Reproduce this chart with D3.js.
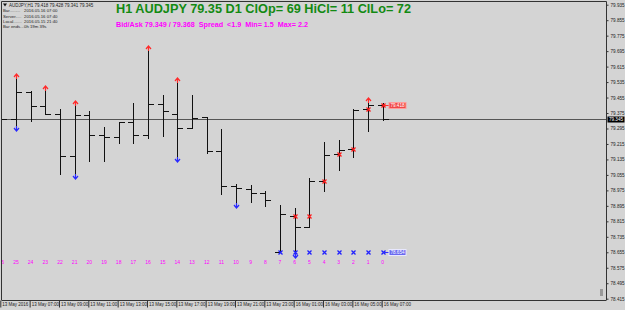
<meta charset="utf-8">
<script src="https://d3js.org/d3.v7.min.js"></script>
<style>
  body { margin: 0; background: #d4d4d4; }
  svg { display: block; font-family: "Liberation Sans", Arial, sans-serif; }
</style>
<div id="chart"></div>
<script>

// H1 bars, oldest first (13 May 05:00 .. 16 May 07:00)
var barTimes = ["13 May 05:00","13 May 06:00","13 May 07:00","13 May 08:00","13 May 09:00","13 May 10:00",
  "13 May 11:00","13 May 12:00","13 May 13:00","13 May 14:00","13 May 15:00","13 May 16:00","13 May 17:00",
  "13 May 18:00","13 May 19:00","13 May 20:00","13 May 21:00","13 May 22:00","13 May 23:00",
  "16 May 00:00","16 May 01:00","16 May 02:00","16 May 03:00","16 May 04:00","16 May 05:00","16 May 06:00","16 May 07:00"];
var opens  = [79.400, 79.343, 79.483, 79.412, 79.370, 79.154, 79.364, 79.262, 79.253, 79.329, 79.262, 79.422, 79.370, 79.297,
  79.356, 79.181, 79.000, 78.983, 78.961, 78.658, 78.844, 78.788, 79.026, 79.162, 79.188, 79.395, 79.418];
var highs  = [79.494, 79.568, 79.491, 79.503, 79.396, 79.427, 79.387, 79.305, 79.331, 79.429, 79.712, 79.469, 79.546, 79.469,
  79.356, 79.291, 79.009, 79.002, 78.971, 78.900, 78.883, 79.038, 79.224, 79.236, 79.395, 79.443, 79.428];
var lows   = [79.314, 79.298, 79.336, 79.370, 79.059, 79.050, 79.129, 79.129, 79.222, 79.222, 79.245, 79.257, 79.138, 79.297,
  79.167, 78.957, 78.902, 78.917, 78.892, 78.654, 78.640, 78.788, 78.974, 79.078, 79.147, 79.284, 79.341];
var closes = [79.343, 79.483, 79.412, 79.370, 79.154, 79.364, 79.262, 79.253, 79.329, 79.262, 79.422, 79.384, 79.297, 79.351,
  79.181, 79.000, 78.987, 78.964, 78.925, 78.852, 78.788, 79.021, 79.160, 79.184, 79.391, 79.417, 79.345];

// indicator marks, as bar shifts (0 = current bar)
var upArrowShifts   = [25, 23, 21, 16, 14, 1];
var downArrowShifts = [25, 21, 14, 10, 6];
var redCrossShifts  = [6, 5, 4, 3, 2, 1, 0];
var redCrossPrices  = [78.844, 78.844, 79.026, 79.162, 79.188, 79.395, 79.418];
var blueCrossShifts = [7, 6, 5, 4, 3, 2, 1, 0];
var blueCrossPrice  = 78.654;
var bidPrice = 79.345;

var priceTicks = [79.935, 79.855, 79.775, 79.695, 79.615, 79.535, 79.455, 79.375, 79.295, 79.215, 79.135,
  79.055, 78.975, 78.895, 78.815, 78.735, 78.655, 78.575, 78.495, 78.415];
var timeTicks = ["13 May 05:00","13 May 07:00","13 May 09:00","13 May 11:00","13 May 13:00","13 May 15:00","13 May 17:00",
  "13 May 19:00","13 May 21:00","13 May 23:00","16 May 01:00","16 May 03:00","16 May 05:00","16 May 07:00"];
var timeTickLabels = ["13 May 2016","13 May 07:00","13 May 09:00","13 May 11:00","13 May 13:00","13 May 15:00","13 May 17:00",
  "13 May 19:00","13 May 21:00","13 May 23:00","16 May 01:00","16 May 03:00","16 May 05:00","16 May 07:00"];

var infoLines = [["Bar.........", "2016.05.16 07:00"], ["Server.....", "2016.05.16 07:40"],
  ["Local.......", "2016.05.15 21:40"], ["Bar ends...", "0h 19m 39s"]];

var width = 625, height = 310;
var plot = {left: 2, top: 2, right: 606, bottom: 300};
var last = barTimes.length - 1;

var svg = d3.select("#chart").append("svg")
    .attr("width", width)
    .attr("height", height);

svg.append("rect").attr("width", width).attr("height", height).attr("fill", "#d4d4d4");

var x = d3.scalePoint().domain(barTimes).range([1.3, 382.7]);
var y = d3.scaleLinear().domain([78.415, 79.935]).range([298.7, 4.7]);
function px(v) { return Math.round(v) + 0.5; }
function bx(shift) { return px(x(barTimes[last - shift])); }

svg.append("clipPath").attr("id", "plotClip")
  .append("rect")
    .attr("x", plot.left).attr("y", plot.top)
    .attr("width", plot.right - plot.left).attr("height", plot.bottom - plot.top);

var g = svg.append("g").attr("clip-path", "url(#plotClip)");

// bid line
g.append("line")
    .attr("x1", plot.left).attr("x2", plot.right)
    .attr("y1", px(y(bidPrice))).attr("y2", px(y(bidPrice)))
    .attr("stroke", "#555").attr("stroke-width", 1);

// OHLC bars
var bars = g.append("g").selectAll("g")
  .data(barTimes)
  .enter().append("g")
    .attr("stroke", "#111").attr("stroke-width", 1);
bars.append("line")
    .attr("x1", function(d) { return px(x(d)); }).attr("x2", function(d) { return px(x(d)); })
    .attr("y1", function(d, i) { return Math.round(y(highs[i])); })
    .attr("y2", function(d, i) { return Math.round(y(lows[i])) + 1; });
bars.append("line")
    .attr("x1", function(d) { return px(x(d)) - 5.5; }).attr("x2", function(d) { return px(x(d)); })
    .attr("y1", function(d, i) { return px(y(opens[i])); })
    .attr("y2", function(d, i) { return px(y(opens[i])); });
bars.append("line")
    .attr("x1", function(d) { return px(x(d)); }).attr("x2", function(d) { return px(x(d)) + 5.5; })
    .attr("y1", function(d, i) { return px(y(closes[i])); })
    .attr("y2", function(d, i) { return px(y(closes[i])); });

// fractal arrows
g.append("g").selectAll("path")
  .data(upArrowShifts)
  .enter().append("path")
    .attr("transform", function(d) { return "translate(" + bx(d) + "," + (Math.round(y(highs[last - d])) - 2) + ")"; })
    .attr("d", "M-2.5,3L0,0L2.5,3M0,0V5")
    .attr("fill", "none").attr("stroke", "#ff2a2a").attr("stroke-width", 1.2);
g.append("g").selectAll("path")
  .data(downArrowShifts)
  .enter().append("path")
    .attr("transform", function(d) { return "translate(" + bx(d) + "," + (Math.round(y(lows[last - d])) + 3) + ")"; })
    .attr("d", "M-2.5,-3L0,0L2.5,-3M0,0V-5")
    .attr("fill", "none").attr("stroke", "#2a2aff").attr("stroke-width", 1.2);

// crosses
var crossPath = "M-2,-2L2,2M-2,2L2,-2";
g.append("g").selectAll("path")
  .data(blueCrossShifts)
  .enter().append("path")
    .attr("transform", function(d) { return "translate(" + bx(d) + "," + px(y(blueCrossPrice)) + ")"; })
    .attr("d", crossPath)
    .attr("stroke", "#2020ff").attr("stroke-width", 1.3);
g.append("g").selectAll("path")
  .data(redCrossShifts)
  .enter().append("path")
    .attr("transform", function(d, i) { return "translate(" + bx(d) + "," + px(y(redCrossPrices[i])) + ")"; })
    .attr("d", crossPath)
    .attr("stroke", "#ff1a1a").attr("stroke-width", 1.3);

// price tags next to the current bar
function priceTag(price, line, fill, border) {
  var x0 = bx(0), yy = px(y(price));
  g.append("line").attr("x1", x0).attr("x2", x0 + 6).attr("y1", yy).attr("y2", yy)
      .attr("stroke", line).attr("stroke-width", 1);
  g.append("rect").attr("x", x0 + 5.5).attr("y", yy - 3).attr("width", 17).attr("height", 6)
      .attr("fill", fill).attr("stroke", border).attr("stroke-width", 1);
  g.append("text").attr("x", x0 + 14).attr("y", yy + 1.6)
      .attr("text-anchor", "middle").attr("font-size", 4.6).attr("fill", "#fff")
      .text(d3.format(".3f")(price));
}
priceTag(redCrossPrices[redCrossPrices.length - 1], "#ff3030", "#f04848", "#ff9a9a");
priceTag(blueCrossPrice, "#3030ff", "#6a6af0", "#e8e8ff");

// bar shift numbers
g.append("g").selectAll("text")
  .data(barTimes)
  .enter().append("text")
    .attr("x", function(d) { return x(d); })
    .attr("y", 263.5)
    .attr("text-anchor", "middle")
    .attr("font-size", 5)
    .attr("fill", "#ff00ff")
    .text(function(d, i) { return last - i; });

// frame
svg.append("path")
    .attr("d", "M" + (plot.left - 0.5) + "," + plot.bottom + "V" + (plot.top - 0.5) + "H" + (plot.right + 0.5) + "V" + plot.bottom)
    .attr("fill", "none").attr("stroke", "#333").attr("stroke-width", 1);

// price axis
var yAxis = svg.append("g")
    .attr("transform", "translate(" + (plot.right + 0.5) + ",0)")
    .call(d3.axisRight(y).tickValues(priceTicks).tickSize(2).tickPadding(2).tickFormat(d3.format(".3f")));
yAxis.select(".domain").remove();
yAxis.selectAll("line").attr("stroke", "#333");
yAxis.selectAll("text").attr("font-size", 4.6).attr("fill", "#222").attr("font-family", "Liberation Sans, Arial, sans-serif");

// current price on the axis
svg.append("rect").attr("x", plot.right + 1.5).attr("y", px(y(bidPrice)) - 3).attr("width", 17).attr("height", 6).attr("fill", "#000");
svg.append("text").attr("x", plot.right + 10).attr("y", px(y(bidPrice)) + 1.6)
    .attr("text-anchor", "middle").attr("font-size", 4.6).attr("fill", "#fff")
    .text(d3.format(".3f")(bidPrice));

// time axis
var xAxis = svg.append("g")
    .attr("transform", "translate(0," + (plot.bottom + 0.5) + ")")
    .call(d3.axisBottom(x).tickValues(timeTicks).tickSize(7)
      .tickFormat(function(d, i) { return timeTickLabels[i]; }));
xAxis.select(".domain").attr("d", "M" + (plot.left - 0.5) + ",0H" + (plot.right + 0.5)).attr("stroke", "#333");
xAxis.selectAll(".tick line").attr("stroke", "#333").attr("transform", "translate(-1,0)");
xAxis.selectAll("text")
    .attr("text-anchor", "start").attr("x", 0.5).attr("y", 2.2).attr("dy", "0.71em")
    .attr("font-size", 4.5).attr("fill", "#222").attr("font-family", "Liberation Sans, Arial, sans-serif");

// small scroll mark at the bottom right
svg.append("rect").attr("x", 600).attr("y", 289).attr("width", 3).attr("height", 7).attr("fill", "#9a9a9a");

// info block top left
svg.append("path").attr("d", "M3,3.5H7L5,6.5Z").attr("fill", "#111");
svg.append("text").attr("x", 9).attr("y", 6.6).attr("font-size", 4.5).attr("fill", "#222")
    .text("AUDJPY,H1 79.418 79.428 79.341 79.345");
infoLines.forEach(function(l, i) {
  svg.append("text").attr("x", 3).attr("y", 12.2 + i * 5.3).attr("font-size", 4.3).attr("fill", "#222").text(l[0]);
  svg.append("text").attr("x", 24).attr("y", 12.2 + i * 5.3).attr("font-size", 4.3).attr("fill", "#222").text(l[1]);
});

// header
svg.append("text").attr("x", 116).attr("y", 13.2)
    .attr("font-size", 12.7).attr("font-weight", "bold").attr("fill", "#128a12")
    .attr("textLength", 295).attr("lengthAdjust", "spacingAndGlyphs")
    .text("H1 AUDJPY 79.35 D1 ClOp= 69 HiCl= 11 ClLo= 72");
svg.append("text").attr("x", 116).attr("y", 26.6)
    .attr("font-size", 7).attr("font-weight", "bold").attr("fill", "#ff00ff")
    .attr("textLength", 192).attr("lengthAdjust", "spacingAndGlyphs")
    .attr("xml:space", "preserve").style("white-space", "pre")
    .text("Bid/Ask 79.349 / 79.368  Spread  <1.9  Min= 1.5  Max= 2.2");

</script>
